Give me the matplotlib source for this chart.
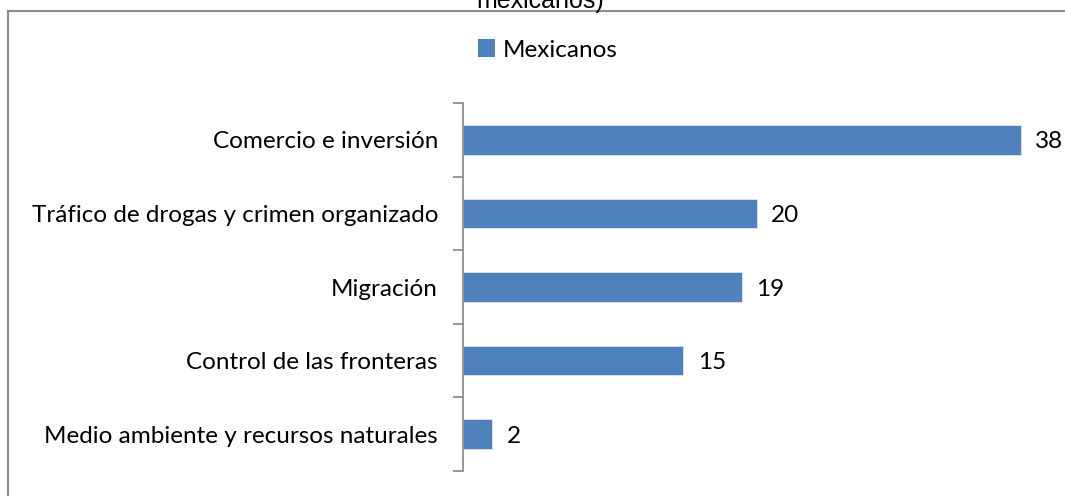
import matplotlib.pyplot as plt
from matplotlib.lines import Line2D
from matplotlib.patches import Patch

categories = [
    "Comercio e inversión",
    "Tráfico de drogas y crimen organizado",
    "Migración",
    "Control de las fronteras",
    "Medio ambiente y recursos naturales",
]
values = [38, 20, 19, 15, 2]
series_name = "Mexicanos"
title = "mexicanos)"

bar_color = "#4F81BD"
axis_color = "#868686"
plt.rcParams['font.family'] = ['Lato', 'DejaVu Sans']
fs = 17.5

fig = plt.figure(figsize=(10.65, 4.96), dpi=100)
ax = fig.add_axes([463 / 1065, 1 - 471 / 496, (1050 - 463) / 1065, (471 - 103) / 496])

pos = list(range(len(categories)))
ax.barh(pos, values, height=0.4, color=bar_color, edgecolor="#DCE6F2", linewidth=0.6)
ax.set_ylim(len(categories) - 0.5, -0.5)
ax.set_xlim(0, 40)

for p, v in zip(pos, values):
    ax.text(v + 1.0, p, str(v), va="center_baseline", ha="left", fontsize=fs)

ax.set_yticks(pos)
ax.set_yticklabels(categories, fontsize=fs, va="center_baseline")
ax.set_yticks([i - 0.5 for i in range(len(categories) + 1)], minor=True)
ax.tick_params(axis="y", which="major", length=0, pad=18)
ax.tick_params(axis="y", which="minor", length=7, width=1.2, color=axis_color, direction="out")
ax.set_xticks([])
for s in ["top", "right", "bottom"]:
    ax.spines[s].set_visible(False)
ax.spines["left"].set_color(axis_color)
ax.spines["left"].set_linewidth(1.2)

# chart area frame (only left and top edges are visible)
fig.add_artist(Line2D([8 / 1065, 8 / 1065], [1 - 11 / 496, 0], transform=fig.transFigure,
                      color="#8C8C8C", linewidth=1.5))
fig.add_artist(Line2D([8 / 1065, 1], [1 - 11 / 496, 1 - 11 / 496], transform=fig.transFigure,
                      color="#8C8C8C", linewidth=1.5))

# cut-off title
fig.text(540 / 1065, 1 - 8 / 496, title, ha="center", va="baseline", fontsize=18,
         family=["Liberation Sans", "DejaVu Sans"])

fig.legend(handles=[Patch(facecolor=bar_color, label=series_name)], loc="center",
           bbox_to_anchor=(548 / 1065, 1 - 50 / 496), frameon=False, fontsize=fs,
           handlelength=0.7, handleheight=0.7, handletextpad=0.3)

fig.savefig("out.png", dpi=100)
